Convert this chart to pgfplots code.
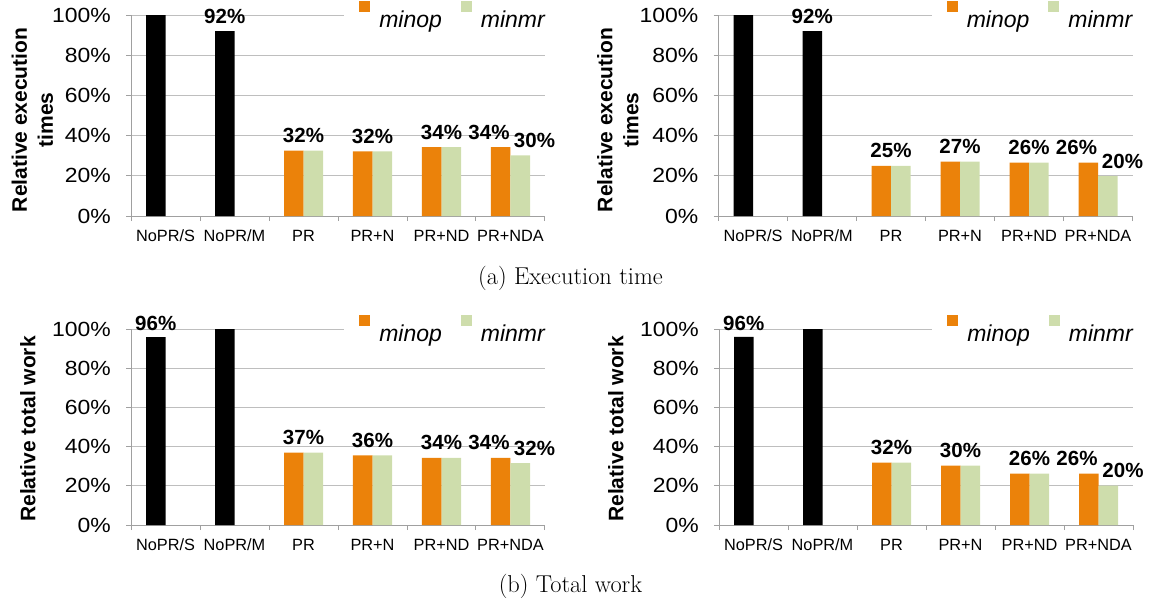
\documentclass[border=0pt]{standalone}
\usepackage{pgfplots}
\pgfplotsset{compat=1.18}
\usepackage{fontspec}
\newfontfamily\chartfont{Liberation Sans}
\newfontfamily\ytickfont[FakeStretch=1.12]{Liberation Sans}
\definecolor{cOrange}{RGB}{235,130,10}
\definecolor{cGreen}{RGB}{206,221,172}
\definecolor{cGrid}{RGB}{190,190,190}
\definecolor{cAxis}{RGB}{160,160,160}
\newcommand\yt[1]{#1\%\kern15pt}
\tikzset{lbl/.style={font=\chartfont\bfseries\fontsize{20.5}{22}\selectfont, anchor=base, yshift=8pt, inner sep=0pt}}
\pgfplotsset{
  chartbase/.style={
    scale only axis, width=414pt,
    xmin=-0.5, xmax=5.5, ymin=0, ymax=100,
    axis x line*=bottom, axis y line*=left,
    axis line style={-, draw=cAxis, line width=1pt},
    xtick={-0.5,0.5,...,5.5},
    x tick label as interval,
    xticklabels={NoPR/S,NoPR/M,PR,PR+N,PR+ND,PR+NDA},
    x tick label style={font=\chartfont\fontsize{16.3}{18}\selectfont, anchor=base, yshift=-20.7pt, inner sep=0pt},
    ytick={0,20,...,100},
    yticklabels={\yt{0},\yt{20},\yt{40},\yt{60},\yt{80},\yt{100}},
    y tick label style={font=\ytickfont\fontsize{20.5}{22}\selectfont, inner sep=0pt, anchor=east},
    tick align=outside,
    major tick length=5pt,
    tick style={draw=cAxis, line width=1pt},
    ymajorgrids, grid style={draw=cGrid, line width=1pt},
    clip=false,
    legend columns=2,
    legend style={at={(axis description cs:1,1)}, anchor=east, xshift=15pt,
      draw=none, fill=white, inner xsep=15pt, inner ysep=1pt,
      font=\chartfont\itshape\fontsize{23}{25}\selectfont,
      nodes={inner sep=0pt},
      /tikz/every odd column/.append style={column sep=9pt},
      /tikz/every even column/.append style={column sep=19pt}},
    ylabel style={font=\chartfont\bfseries\fontsize{21}{26}\selectfont, align=center, anchor=center},
  },
  blk/.style={ybar, bar width=19.5pt, bar shift=-9.75pt, fill=black, draw=none, forget plot},
  org/.style={ybar, bar width=19.5pt, bar shift=-9.75pt, fill=cOrange, draw=none,
     legend image code/.code={\fill[cOrange] (0pt,7.7pt) rectangle (11pt,18.7pt);}},
  grn/.style={ybar, bar width=19.5pt, bar shift=9.75pt, fill=cGreen, draw=none,
     legend image code/.code={\fill[cGreen] (0pt,7.7pt) rectangle (11pt,18.7pt);}},
}
\begin{document}
\begin{tikzpicture}
\useasboundingbox (0,0) rectangle (1150pt,-603pt);
% ---------- top left
\begin{axis}[chartbase, height=201pt, at={(131pt,-216pt)}, anchor=south west,
  ylabel={Relative execution\\times},
  ylabel style={at={(axis description cs:-0.238,0.478)}}]
\addplot[blk] coordinates {(0,100) (1,92)};
\addplot[org] coordinates {(2,32.5) (3,32.2) (4,34.3) (5,34.3)};
\addplot[grn] coordinates {(2,32.5) (3,32.2) (4,34.3) (5,30.2)};
\legend{minop,minmr}
\node[lbl, xshift=-9.75pt] at (axis cs:1,92) {92\%};
\node[lbl] at (axis cs:2,32.5) {32\%};
\node[lbl] at (axis cs:3,32.2) {32\%};
\node[lbl] at (axis cs:4,34.3) {34\%};
\node[lbl, xshift=-21.5pt] at (axis cs:5,34.3) {34\%};
\node[lbl, xshift=24pt] at (axis cs:5,30.2) {30\%};
\end{axis}
% ---------- top right
\begin{axis}[chartbase, height=201pt, at={(718.5pt,-216pt)}, anchor=south west,
  ylabel={Relative execution\\times},
  ylabel style={at={(axis description cs:-0.243,0.478)}}]
\addplot[blk] coordinates {(0,100) (1,92)};
\addplot[org] coordinates {(2,25) (3,27) (4,26.5) (5,26.5)};
\addplot[grn] coordinates {(2,25) (3,27) (4,26.5) (5,19.9)};
\legend{minop,minmr}
\node[lbl, xshift=-9.75pt] at (axis cs:1,92) {92\%};
\node[lbl] at (axis cs:2,25) {25\%};
\node[lbl] at (axis cs:3,27) {27\%};
\node[lbl] at (axis cs:4,26.5) {26\%};
\node[lbl, xshift=-21.5pt] at (axis cs:5,26.5) {26\%};
\node[lbl, xshift=24.5pt] at (axis cs:5,19.9) {20\%};
\end{axis}
% ---------- bottom left
\begin{axis}[chartbase, height=196pt, at={(131pt,-525pt)}, anchor=south west,
  ylabel={Relative total work},
  ylabel style={at={(axis description cs:-0.249,0.49)}}]
\addplot[blk] coordinates {(0,95.9) (1,100)};
\addplot[org] coordinates {(2,36.9) (3,35.5) (4,34.2) (5,34.2)};
\addplot[grn] coordinates {(2,36.9) (3,35.5) (4,34.2) (5,31.6)};
\legend{minop,minmr}
\node[lbl, xshift=-9.75pt, yshift=-1.5pt] at (axis cs:0,95.9) {96\%};
\node[lbl] at (axis cs:2,36.9) {37\%};
\node[lbl] at (axis cs:3,35.5) {36\%};
\node[lbl] at (axis cs:4,34.2) {34\%};
\node[lbl, xshift=-21.5pt] at (axis cs:5,34.2) {34\%};
\node[lbl, xshift=24pt] at (axis cs:5,31.6) {32\%};
\end{axis}
% ---------- bottom right
\begin{axis}[chartbase, height=196pt, at={(719pt,-525pt)}, anchor=south west,
  ylabel={Relative total work},
  ylabel style={at={(axis description cs:-0.249,0.49)}}]
\addplot[blk] coordinates {(0,96) (1,100)};
\addplot[org] coordinates {(2,31.8) (3,30.3) (4,26.2) (5,26.2)};
\addplot[grn] coordinates {(2,31.8) (3,30.3) (4,26.2) (5,20.1)};
\legend{minop,minmr}
\node[lbl, xshift=-9.75pt, yshift=-1.5pt] at (axis cs:0,96) {96\%};
\node[lbl] at (axis cs:2,31.8) {32\%};
\node[lbl] at (axis cs:3,30.3) {30\%};
\node[lbl] at (axis cs:4,26.2) {26\%};
\node[lbl, xshift=-21.5pt] at (axis cs:5,26.2) {26\%};
\node[lbl, xshift=24.5pt] at (axis cs:5,20.1) {20\%};
\end{axis}
% ---------- captions
\node[anchor=base, inner sep=0pt] at (570.5pt,-284pt) {\fontsize{24.4}{28}\selectfont (a) Execution time};
\node[anchor=base, inner sep=0pt] at (570.5pt,-592pt) {\fontsize{24.4}{28}\selectfont (b) Total work};
\end{tikzpicture}
\end{document}
